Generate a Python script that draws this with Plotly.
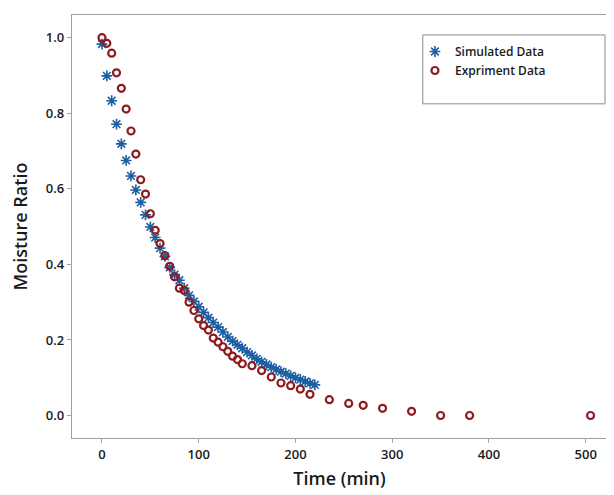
import plotly.graph_objects as go

# Simulated data (time in min, moisture ratio)
sim_time = [0, 5, 10, 15, 20, 25, 30, 35, 40, 45, 50, 55, 60, 65, 70, 75,
            80, 85, 90, 95, 100, 105, 110, 115, 120, 125, 130, 135, 140, 145,
            150, 155, 160, 165, 170, 175, 180, 185, 190, 195, 200, 205, 210, 215, 220]
sim_mr = [0.983, 0.899, 0.833, 0.771, 0.719, 0.675, 0.634, 0.597, 0.564, 0.531,
          0.499, 0.471, 0.443, 0.421, 0.392, 0.373,
          0.358, 0.337, 0.318, 0.302, 0.288, 0.273, 0.259, 0.246, 0.234, 0.221,
          0.208, 0.197, 0.187, 0.178, 0.168, 0.159, 0.150, 0.142, 0.135, 0.128,
          0.122, 0.116, 0.111, 0.105, 0.100, 0.095, 0.090, 0.085, 0.081]

# Experiment data
exp_time = [0, 5, 10, 15, 20, 25, 30, 35, 40, 45, 50, 55, 60, 65, 70, 75,
            80, 85, 90, 95, 100, 105, 110, 115, 120, 125, 130, 135, 140, 145,
            155, 165, 175, 185, 195, 205, 215, 235, 255, 270, 290, 320, 350, 380, 505]
exp_mr = [1.0, 0.985, 0.959, 0.907, 0.866, 0.811, 0.753, 0.692, 0.624, 0.586,
          0.534, 0.490, 0.455, 0.423, 0.395, 0.367,
          0.337, 0.331, 0.300, 0.278, 0.256, 0.238, 0.226, 0.205, 0.194, 0.182,
          0.170, 0.157, 0.148, 0.137,
          0.132, 0.119, 0.102, 0.086, 0.079, 0.070, 0.056, 0.042, 0.032, 0.027,
          0.019, 0.011, 0.0, 0.0, 0.0]

x_ticks = [0, 100, 200, 300, 400, 500]
y_ticks = [0.0, 0.2, 0.4, 0.6, 0.8, 1.0]
y_tick_labels = ["0.0", "0.2", "0.4", "0.6", "0.8", "1.0"]

FONT = "Open Sans"
BLUE = "#1c5fa3"
RED = "#8e1b1f"

fig = go.Figure()
fig.add_trace(go.Scatter(
    x=sim_time, y=sim_mr, mode="markers", name="Simulated Data",
    marker=dict(symbol="asterisk-open", size=9, color=BLUE,
                line=dict(color=BLUE, width=1.6)),
))
fig.add_trace(go.Scatter(
    x=exp_time, y=exp_mr, mode="markers", name="Expriment Data",
    marker=dict(symbol="circle-open", size=7, color=RED,
                line=dict(color=RED, width=2.2)),
))

# page body has an 8px default margin, so the figure is sized to fit it
W, H = 606, 487
ml, mr, mt, mb = 64, 7, 7, 57

# legend frame
fig.add_shape(type="rect", xref="paper", yref="paper",
              x0=0.6557, x1=0.9963, y0=0.790, y1=0.9528,
              line=dict(color="#8c8c8c", width=1), fillcolor="white", layer="below")

axis_common = dict(
    showgrid=False, zeroline=False, showline=True, mirror=True,
    linecolor="#a0a0a0", linewidth=1.3, automargin=False,
    ticks="outside", ticklen=4, tickwidth=1, tickcolor="#a0a0a0",
    tickfont=dict(family=FONT, size=13, color="#1a1a1a", weight=600),
)

fig.update_layout(
    width=W, height=H,
    margin=dict(l=ml, r=mr, t=mt, b=mb),
    paper_bgcolor="white", plot_bgcolor="white",
    showlegend=True,
    legend=dict(x=0.641, y=0.948, xanchor="left", yanchor="top",
                bgcolor="rgba(0,0,0,0)", borderwidth=0,
                font=dict(family=FONT, size=12, color="#1a1a1a", weight=600),
                itemwidth=30, tracegroupgap=0),
    xaxis=dict(range=[-31, 522], tickvals=x_ticks,
               title=dict(text="Time (min)", standoff=10,
                          font=dict(family=FONT, size=18, color="#1a1a1a", weight=600)),
               **axis_common),
    yaxis=dict(range=[-0.0595, 1.060], tickvals=y_ticks, ticktext=y_tick_labels,
               title=dict(text="Moisture Ratio", standoff=14,
                          font=dict(family=FONT, size=18, color="#1a1a1a", weight=600)),
               **axis_common),
)

fig.write_html("out.html")
